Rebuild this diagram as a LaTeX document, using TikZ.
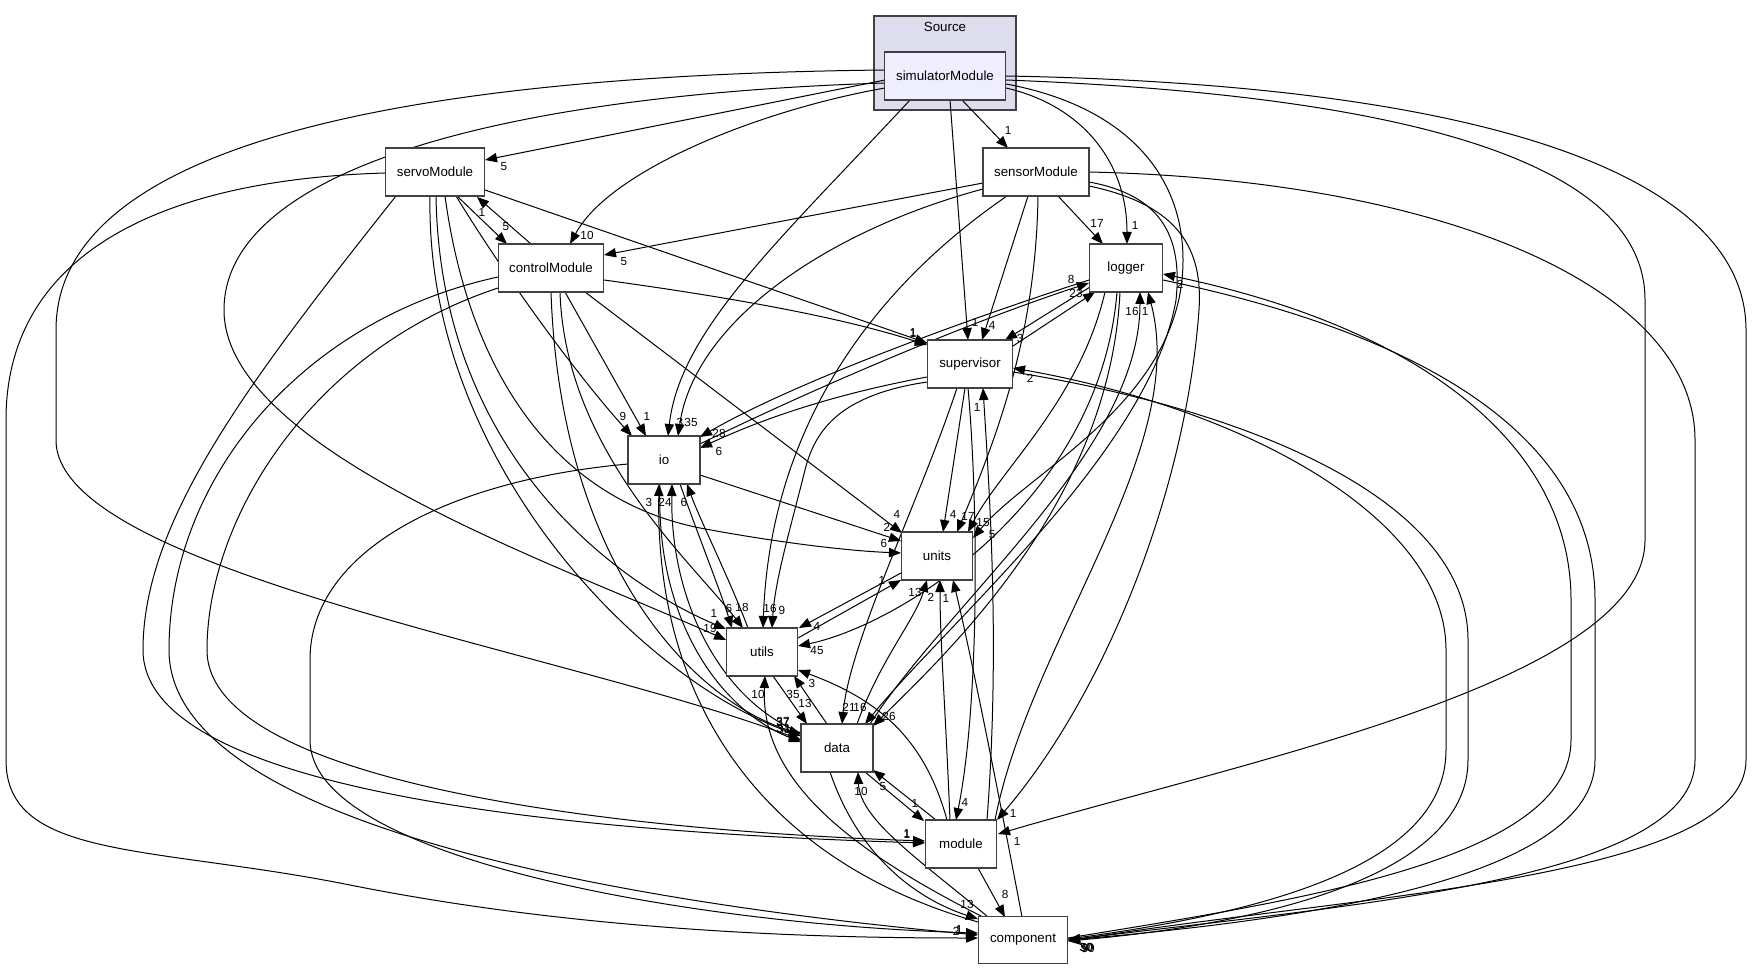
\documentclass[tikz,border=0pt]{standalone}
\usepackage{fontspec}
\setmainfont{Liberation Sans}
\usetikzlibrary{arrows.meta,calc}
\definecolor{boxgray}{HTML}{404040}
\definecolor{clfill}{HTML}{DDDDEE}
\definecolor{simfill}{HTML}{EEEEFF}
\pgfdeclarelayer{back}
\pgfdeclarelayer{edgel}
\pgfsetlayers{back,edgel,main}
\tikzset{
  box/.style={draw=boxgray, line width=1.1pt, fill=white, minimum height=36pt, inner sep=0pt, font=\fontsize{10}{12}\selectfont},
  e/.style={draw=black, line width=0.75pt, -{Triangle[length=9pt,width=7pt]}},
  lab/.style={font=\fontsize{8.8}{10}\selectfont, inner sep=0pt},
}
\begin{document}
\begin{tikzpicture}[x=0.75pt,y=-0.75pt]
\useasboundingbox (0,0) rectangle (1752,969);
\begin{pgfonlayer}{back}
\fill[white] (0,0) rectangle (1752,969);
\draw[draw=boxgray, fill=clfill, line width=0.9pt] (874,16) rectangle (1016,110);
\end{pgfonlayer}
\node[font=\fontsize{10}{12}\selectfont, inner sep=0pt] (srclab) at (945,27) {Source};
\node[box, fill=simfill, minimum width=90.75pt] (sim) at (945,76) {simulatorModule};
\node[box, minimum width=74.25pt] (servo) at (435,172) {servoModule};
\node[box, minimum width=78.75pt] (control) at (551,268) {controlModule};
\node[box, minimum width=79.5pt] (sensor) at (1036,172) {sensorModule};
\node[box, minimum width=54.75pt] (logger) at (1126,268) {logger};
\node[box, minimum width=63.75pt] (supervisor) at (970,364) {supervisor};
\node[box, minimum width=54pt] (io) at (664,460) {io};
\node[box, minimum width=53.25pt] (units) at (937,556) {units};
\node[box, minimum width=53.25pt] (utils) at (762,652) {utils};
\node[box, minimum width=54pt] (data) at (837,748) {data};
\node[box, minimum width=53.25pt] (module) at (961,844) {module};
\node[box, minimum width=66.75pt, minimum height=35.25pt] (component) at (1023,940) {component};
\begin{pgfonlayer}{edgel}
% simulatorModule
\draw[e] ($(sim)+(-60,4)$) -- ($(servo)+(50,-12)$) node[lab] (l1) at (504,167) {5};
\draw[e] ($(sim)+(-60,12)$) .. controls (760,110) and (610,170) .. ($(control)+(19,-24)$) node[lab] (l2) at (587,235) {10};
\draw[e] ($(sim)+(17,24)$) -- ($(sensor)+(-28,-24)$) node[lab] (l3) at (1008,130) {1};
\draw[e] ($(sim)+(61,12)$) .. controls (1080,105) and (1127,160) .. ($(logger)+(1,-24)$) node[lab] (l4) at (1135,225) {1};
\draw[e] ($(sim)+(5,24)$) -- ($(supervisor)+(-2,-24)$) node[lab] (l5) at (975,322) {1};
\draw[e] ($(sim)+(-35,24)$) .. controls (780,240) and (680,330) .. ($(io)+(4,-24)$) node[lab] (l6) at (680,422) {3};
\draw[e] ($(sim)+(61,8)$) .. controls (1120,105) and (1183,170) .. (1183,260) .. controls (1183,400) and (1030,470) .. ($(units)+(36,-18)$) node[lab] (l7) at (992,535) {5};
\draw[e] ($(sim)+(-60,7)$) .. controls (500,95) and (224,170) .. (224,310) .. controls (224,450) and (560,565) .. ($(utils)+(-36,-12)$) node[lab] (l8) at (710,628) {19};
\draw[e] ($(sim)+(-60,-6)$) .. controls (420,75) and (56,140) .. (56,330) -- (56,440) .. controls (56,570) and (560,650) .. ($(data)+(-36,-8)$) node[lab] (l9) at (783,722) {37};
\draw[e] ($(sim)+(61,4)$) .. controls (1400,95) and (1645,160) .. (1645,300) -- (1645,540) .. controls (1645,680) and (1250,760) .. ($(module)+(37,-10)$) node[lab] (l10) at (1017,841) {1};
\draw[e] ($(sim)+(61,0)$) .. controls (1500,85) and (1746,180) .. (1746,330) -- (1746,760) .. controls (1746,880) and (1350,895) .. ($(component)+(45,1)$) node[lab] (l11) at (1087,947) {50};
% servoModule / controlModule
\draw[e] ($(servo)+(22,24)$) -- ($(control)+(-44,-24)$) node[lab] (l12) at (506,227) {5};
\draw[e] ($(control)+(-20,-24)$) -- ($(servo)+(42,25)$) node[lab] (l13) at (482,212) {1};
\draw[e] ($(servo)+(50,18)$) -- ($(supervisor)+(-43,-21)$) node[lab] (l14) at (913,332) {1};
\draw[e] ($(control)+(53,12)$) .. controls (750,300) and (850,320) .. ($(supervisor)+(-43,-19)$) node[lab] (l15) at (913,333) {1};
\draw[e] ($(servo)+(21,24)$) .. controls (520,300) and (590,390) .. ($(io)+(-32,-24)$) node[lab] (l16) at (623,416) {9};
\draw[e] ($(control)+(14,24)$) -- ($(io)+(-18,-24)$) node[lab] (l17) at (647,416) {1};
\draw[e] ($(servo)+(10,24)$) .. controls (470,380) and (560,500) .. (700,528) .. controls (780,543) and (850,551) .. ($(units)+(-36,-3)$) node[lab] (l18) at (884,543) {6};
\draw[e] ($(servo)+(1,24)$) .. controls (440,450) and (610,580) .. ($(utils)+(-36,-23)$) node[lab] (l19) at (714,613) {1};
\draw[e] ($(servo)+(-5,24)$) .. controls (425,460) and (640,680) .. ($(data)+(-36,-12)$) node[lab] (l20) at (783,728) {33};
\draw[e] ($(control)+(9,24)$) .. controls (565,450) and (690,560) .. ($(utils)+(-19,-24)$) node[lab] (l21) at (742,607) {18};
\draw[e] ($(control)+(0,24)$) .. controls (560,560) and (690,700) .. ($(data)+(-36,-14)$) node[lab] (l22) at (784,729) {31};
\draw[e] ($(control)+(34,24)$) -- ($(units)+(-35,-23)$) node[lab] (l23) at (897,514) {4};
\draw[e] ($(servo)+(-39,24)$) .. controls (250,380) and (143,520) .. (143,650) .. controls (143,780) and (500,830) .. ($(module)+(-36,-1)$) node[lab] (l24) at (907,833) {1};
\draw[e] ($(servo)+(-50,1)$) .. controls (150,180) and (6,260) .. (6,420) -- (6,760) .. controls (6,860) and (150,845) .. (350,885) .. controls (600,935) and (850,938) .. ($(component)+(-45,-2)$) node[lab] (l25) at (956,931) {2};
\draw[e] ($(control)+(-53,9)$) .. controls (300,320) and (169,480) .. (169,650) .. controls (169,820) and (600,900) .. ($(component)+(-45,-5)$) node[lab] (l26) at (959,929) {1};
\draw[e] ($(control)+(-53,20)$) .. controls (310,350) and (207,520) .. (207,650) .. controls (207,780) and (600,830) .. ($(module)+(-36,-3)$) node[lab] (l27) at (907,834) {1};
\draw[e] ($(io)+(-36,4)$) .. controls (450,480) and (310,550) .. (310,660) -- (310,740) .. controls (310,860) and (700,925) .. ($(component)+(-45,-7)$) node[lab] (l28) at (959,930) {1};
% sensorModule
\draw[e] ($(sensor)+(-53,11)$) -- ($(control)+(53,-13)$) node[lab] (l30) at (624,262) {5};
\draw[e] ($(sensor)+(-53,17)$) .. controls (830,230) and (695,320) .. ($(io)+(14,-24)$) node[lab] (l31) at (691,422) {35};
\draw[e] ($(sensor)+(22,24)$) -- ($(logger)+(-23,-24)$) node[lab] (l32) at (1097,223) {17};
\draw[e] ($(sensor)+(-8,24)$) -- ($(supervisor)+(12,-24)$) node[lab] (l33) at (992,325) {4};
\draw[e] ($(sensor)+(2,24)$) .. controls (1036,330) and (1000,430) .. ($(units)+(20,-24)$) node[lab] (l34) at (968,516) {17};
\draw[e] ($(sensor)+(-29,24)$) .. controls (870,290) and (770,430) .. ($(utils)+(1,-24)$) node[lab] (l35) at (770,608) {16};
\draw[e] ($(sensor)+(53,10)$) .. controls (1160,195) and (1183,235) .. (1176,300) .. controls (1150,450) and (950,620) .. ($(data)+(28,-24)$) node[lab] (l36) at (860,707) {16};
\draw[e] ($(sensor)+(53,14)$) .. controls (1180,205) and (1203,250) .. (1199,310) .. controls (1185,500) and (1100,700) .. ($(module)+(36,-24)$) node[lab] (l37) at (1013,813) {1};
\draw[e] ($(sensor)+(53,0)$) .. controls (1450,180) and (1695,290) .. (1695,440) -- (1695,760) .. controls (1695,880) and (1350,905) .. ($(component)+(45,0)$) node[lab] (l38) at (1086,947) {30};
% logger / supervisor
\draw[e] ($(logger)+(-36,19)$) -- ($(supervisor)+(35,-24)$) node[lab] (l39) at (1020,338) {3};
\draw[e] ($(supervisor)+(43,-18)$) -- ($(logger)+(-31,24)$) node[lab] (l40) at (1076,293) {23};
\draw[e] ($(logger)+(-37,12)$) .. controls (950,325) and (790,385) .. ($(io)+(36,-23)$) node[lab] (l41) at (719,433) {28};
\draw[e] ($(io)+(36,-16)$) .. controls (800,395) and (960,325) .. ($(logger)+(-37,15)$) node[lab] (l42) at (1071,279) {8};
\draw[e] ($(supervisor)+(-43,13)$) .. controls (830,395) and (760,420) .. ($(io)+(36,-12)$) node[lab] (l43) at (719,451) {6};
\draw[e] ($(supervisor)+(-43,18)$) .. controls (840,395) and (815,430) .. (805,470) .. controls (790,530) and (775,580) .. ($(utils)+(10,-24)$) node[lab] (l44) at (782,610) {9};
\draw[e] ($(supervisor)+(-13,24)$) .. controls (920,500) and (850,640) .. ($(data)+(5,-24)$) node[lab] (l45) at (849,707) {21};
\draw[e] ($(supervisor)+(-5,24)$) -- ($(units)+(6,-24)$) node[lab] (l46) at (953,514) {4};
\draw[e] ($(supervisor)+(-2,24)$) .. controls (978,500) and (980,700) .. ($(module)+(-5,-24)$) node[lab] (l47) at (965,802) {4};
\draw[e] ($(logger)+(-21,24)$) .. controls (1080,400) and (1000,470) .. ($(units)+(31,-24)$) node[lab] (l48) at (983,523) {15};
\draw[e] ($(logger)+(-9,24)$) .. controls (1100,500) and (900,625) .. ($(utils)+(36,-6)$) node[lab] (l49) at (817,651) {45};
\draw[e] ($(logger)+(-6,24)$) .. controls (1110,500) and (950,650) .. ($(data)+(36,-22)$) node[lab] (l50) at (889,716) {26};
\draw[e] ($(data)+(33,-24)$) .. controls (950,600) and (1140,450) .. ($(logger)+(14,24)$) node[lab] (l51) at (1132,311) {16};
\draw[e] ($(module)+(34,-24)$) .. controls (1030,640) and (1190,450) .. ($(logger)+(22,24)$) node[lab] (l52) at (1145,311) {1};
\draw[e] ($(logger)+(37,12)$) .. controls (1450,340) and (1595,450) .. (1595,600) -- (1595,760) .. controls (1595,880) and (1300,920) .. ($(component)+(45,0)$) node[lab] (l53) at (1088,948) {90};
\draw[e] ($(component)+(45,-2)$) .. controls (1300,900) and (1571,860) .. (1571,740) -- (1571,600) .. controls (1571,450) and (1430,330) .. ($(logger)+(37,6)$) node[lab] (l54) at (1180,284) {2};
\draw[e] ($(supervisor)+(43,8)$) .. controls (1250,410) and (1468,500) .. (1468,640) -- (1468,760) .. controls (1468,880) and (1250,925) .. ($(component)+(45,1)$) node[lab] (l55) at (1085,948) {9};
\draw[e] ($(component)+(45,-1)$) .. controls (1250,915) and (1446,870) .. (1446,750) -- (1446,650) .. controls (1446,520) and (1250,410) .. ($(supervisor)+(43,4)$) node[lab] (l56) at (1030,378) {2};
% module, units, utils, data, component, io
\draw[e] ($(module)+(26,-24)$) .. controls (1000,650) and (990,500) .. ($(supervisor)+(13,24)$) node[lab] (l57) at (977,407) {1};
\draw[e] ($(module)+(-11,-24)$) .. controls (945,700) and (940,640) .. ($(units)+(3,24)$) node[lab] (l58) at (931,597) {2};
\draw[e] ($(component)+(-1,-23)$) .. controls (1000,800) and (970,650) .. ($(units)+(16,24)$) node[lab] (l59) at (946,598) {1};
\draw[e] ($(data)+(20,-24)$) .. controls (880,660) and (915,620) .. ($(units)+(-10,24)$) node[lab] (l60) at (915,592) {13};
\draw[e] ($(utils)+(36,-14)$) -- ($(units)+(-36,24)$) node[lab] (l61) at (882,580) {1};
\draw[e] ($(units)+(-36,17)$) -- ($(utils)+(37,-24)$) node[lab] (l62) at (817,626) {4};
\draw[e] ($(data)+(-10,-24)$) -- ($(utils)+(32,24)$) node[lab] (l63) at (793,694) {35};
\draw[e] ($(utils)+(11,24)$) -- ($(data)+(-30,-24)$) node[lab] (l64) at (805,703) {13};
\draw[e] ($(module)+(-14,-24)$) .. controls (925,740) and (880,700) .. ($(utils)+(36,18)$) node[lab] (l65) at (812,683) {3};
\draw[e] ($(component)+(-40,-23)$) .. controls (850,850) and (760,780) .. ($(utils)+(3,24)$) node[lab] (l66) at (758,694) {10};
\draw[e] ($(component)+(-35,-23)$) .. controls (920,860) and (860,820) .. ($(data)+(21,24)$) node[lab] (l67) at (861,791) {10};
\draw[e] ($(data)+(-7,24)$) .. controls (860,860) and (920,900) .. ($(component)+(-45,-21)$) node[lab] (l68) at (967,904) {13};
\draw[e] ($(component)+(-45,-18)$) .. controls (760,860) and (655,700) .. ($(io)+(-5,24)$) node[lab] (l69) at (649,502) {3};
\draw[e] ($(data)+(-36,-15)$) .. controls (720,700) and (670,600) .. ($(io)+(8,24)$) node[lab] (l70) at (665,502) {24};
\draw[e] ($(io)+(-4,24)$) .. controls (655,620) and (720,710) .. ($(data)+(-36,-6)$) node[lab] (l71) at (783,721) {37};
\draw[e] ($(utils)+(-14,-24)$) .. controls (730,580) and (700,520) .. ($(io)+(23,24)$) node[lab] (l72) at (684,502) {6};
\draw[e] ($(io)+(16,24)$) .. controls (700,540) and (720,590) .. ($(utils)+(-30,-24)$) node[lab] (l73) at (729,608) {6};
\draw[e] ($(io)+(36,15)$) -- ($(units)+(-36,-15)$) node[lab] (l74) at (887,527) {2};
\draw[e] ($(data)+(28,24)$) -- ($(module)+(-37,-23)$) node[lab] (l75) at (915,803) {1};
\draw[e] ($(module)+(-25,-24)$) -- ($(data)+(36,22)$) node[lab] (l76) at (883,787) {5};
\draw[e] ($(module)+(17,24)$) -- ($(component)+(-18,-23)$) node[lab] (l77) at (1005,894) {8};
\end{pgfonlayer}
\end{tikzpicture}
\end{document}
